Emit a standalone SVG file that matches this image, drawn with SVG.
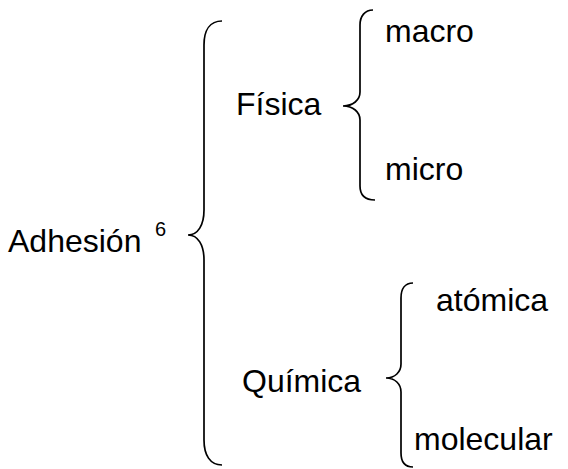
<svg xmlns="http://www.w3.org/2000/svg" width="568" height="469" viewBox="0 0 568 469">
  <style>
    .lbl { font-family: "Liberation Sans", Arial, sans-serif; font-size: 32px; fill: #000; }
    .sup { font-family: "Liberation Sans", Arial, sans-serif; font-size: 20px; fill: #000; }
    .brace { fill: none; stroke: #000; stroke-width: 1.7; }
  </style>
  <rect width="568" height="469" fill="#fff"/>
  <g id="connectors">
    <path class="brace" d="M222,21 C210,21 204,30 204,45 L204,210 C204,225 198,235 188,235 C198,235 204,245 204,260 L204,440 C204,455 210,465 222,465"/>
    <path class="brace" d="M373,10 C365,10 360,16 360,25 L360,92 C360,100 353,106 343,106 C353,106 360,112 360,120 L360,186 C360,195 365,200 375,200"/>
    <path class="brace" d="M413,283 C405,283 401,289 401,298 L401,364 C401,372 395,378 386,378 C395,378 401,384 401,392 L401,453 C401,462 405,467 413,467"/>
  </g>
  <g id="adhesion"><text class="lbl" x="8" y="252">Adhesión</text><text class="sup" x="155" y="236">6</text></g>
  <g id="fisica"><text class="lbl" x="236" y="115">Física</text></g>
  <g id="macro"><text class="lbl" x="385" y="42">macro</text></g>
  <g id="micro"><text class="lbl" x="385" y="180">micro</text></g>
  <g id="quimica"><text class="lbl" x="242" y="392">Química</text></g>
  <g id="atomica"><text class="lbl" x="436" y="311">atómica</text></g>
  <g id="molecular"><text class="lbl" x="414" y="450">molecular</text></g>
</svg>
